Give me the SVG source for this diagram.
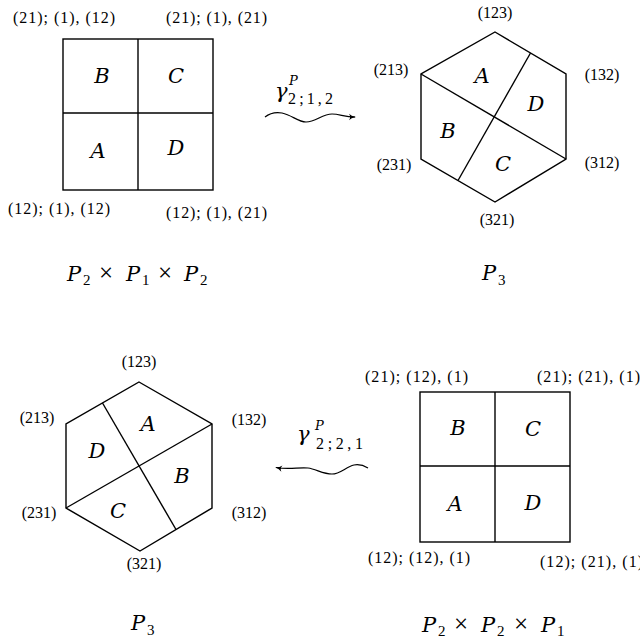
<svg xmlns="http://www.w3.org/2000/svg" width="640" height="643" viewBox="0 0 640 643">
<defs>
<style>
text{font-family:"Liberation Serif","DejaVu Serif",serif;fill:#000}
.lab{font-size:16px}
.let{font-family:"DejaVu Serif",serif;font-size:21px;font-style:italic}
.it{font-family:"DejaVu Serif",serif;font-style:italic;font-size:21px}
.op{font-size:25px}
.sub{font-size:15px}
.sup{font-family:"DejaVu Serif",serif;font-style:italic;font-size:13px}
.gsub{font-size:16px}
.gam{font-family:"DejaVu Serif",serif;font-style:italic;font-size:21px}
.shape{fill:#fff;stroke:#000;stroke-width:1.4}
.ln{stroke:#000;stroke-width:1.4;fill:none}
.wave{stroke:#000;stroke-width:1.2;fill:none}
</style>
<marker id="ah" markerWidth="10" markerHeight="10" refX="0" refY="0" viewBox="-8 -5 10 10" orient="auto" markerUnits="userSpaceOnUse">
<path d="M1,0 Q-4,-1 -6,-3.2 Q-4.5,-0.8 -5,0 Q-4.5,0.8 -6,3.2 Q-4,1 1,0 Z" fill="#000"/>
</marker>
</defs>
<rect width="640" height="643" fill="#fff"/>

<g id="square-top">
<rect class="shape" x="63" y="39" width="150" height="151"/>
<line class="ln" x1="138" y1="39" x2="138" y2="190"/>
<line class="ln" x1="63" y1="113" x2="213" y2="113"/>
<text class="let" x="102" y="83" text-anchor="middle">B</text>
<text class="let" x="176" y="83" text-anchor="middle">C</text>
<text class="let" x="98" y="158" text-anchor="middle">A</text>
<text class="let" x="176" y="155" text-anchor="middle">D</text>
<text class="lab" x="13" y="23" textLength="102" lengthAdjust="spacing">(21); (1), (12)</text>
<text class="lab" x="166" y="23" textLength="101" lengthAdjust="spacing">(21); (1), (21)</text>
<text class="lab" x="8" y="214" textLength="102" lengthAdjust="spacing">(12); (1), (12)</text>
<text class="lab" x="166" y="218" textLength="101" lengthAdjust="spacing">(12); (1), (21)</text>
<g id="caption-top-left">
<text class="it" x="67" y="281">P</text><text class="sub" x="83" y="285">2</text>
<text class="op" x="99" y="281">×</text>
<text class="it" x="126" y="281">P</text><text class="sub" x="142" y="285">1</text>
<text class="op" x="158" y="281">×</text>
<text class="it" x="184" y="281">P</text><text class="sub" x="200" y="285">2</text>
</g>
</g>

<g id="hex-top">
<polygon class="shape" points="495,32 566,74 566,159 495,202 421,159 421,74"/>
<line class="ln" x1="421" y1="74" x2="566" y2="159"/>
<line class="ln" x1="530.5" y1="53" x2="458" y2="180.5"/>
<text class="let" x="482" y="83" text-anchor="middle">A</text>
<text class="let" x="536" y="111" text-anchor="middle">D</text>
<text class="let" x="448" y="138" text-anchor="middle">B</text>
<text class="let" x="503" y="171" text-anchor="middle">C</text>
<text class="lab" x="495" y="18" text-anchor="middle">(123)</text>
<text class="lab" x="391" y="75" text-anchor="middle">(213)</text>
<text class="lab" x="602" y="80" text-anchor="middle">(132)</text>
<text class="lab" x="394" y="170" text-anchor="middle">(231)</text>
<text class="lab" x="602" y="168" text-anchor="middle">(312)</text>
<text class="lab" x="497" y="225" text-anchor="middle">(321)</text>
<text class="it" x="482" y="280">P</text><text class="sub" x="498" y="285">3</text>
</g>

<g id="hex-bottom">
<polygon class="shape" points="139,382 212,424 212,508 140,551 66,508 66,424"/>
<line class="ln" x1="66" y1="508" x2="212" y2="424"/>
<line class="ln" x1="102.5" y1="403" x2="176" y2="529.5"/>
<text class="let" x="148" y="431" text-anchor="middle">A</text>
<text class="let" x="97" y="458" text-anchor="middle">D</text>
<text class="let" x="182" y="483" text-anchor="middle">B</text>
<text class="let" x="118" y="518" text-anchor="middle">C</text>
<text class="lab" x="139" y="367" text-anchor="middle">(123)</text>
<text class="lab" x="37" y="423" text-anchor="middle">(213)</text>
<text class="lab" x="249" y="425" text-anchor="middle">(132)</text>
<text class="lab" x="39" y="518" text-anchor="middle">(231)</text>
<text class="lab" x="249" y="518" text-anchor="middle">(312)</text>
<text class="lab" x="144" y="569" text-anchor="middle">(321)</text>
<text class="it" x="131" y="630">P</text><text class="sub" x="147" y="635">3</text>
</g>

<g id="square-bottom">
<rect class="shape" x="420" y="392" width="150" height="150"/>
<line class="ln" x1="495" y1="392" x2="495" y2="542"/>
<line class="ln" x1="420" y1="466" x2="570" y2="466"/>
<text class="let" x="458" y="435" text-anchor="middle">B</text>
<text class="let" x="533" y="436" text-anchor="middle">C</text>
<text class="let" x="455" y="511" text-anchor="middle">A</text>
<text class="let" x="533" y="510" text-anchor="middle">D</text>
<text class="lab" x="365" y="382" textLength="103" lengthAdjust="spacing">(21); (12), (1)</text>
<text class="lab" x="537" y="382" textLength="103" lengthAdjust="spacing">(21); (21), (1)</text>
<text class="lab" x="368" y="563" textLength="102" lengthAdjust="spacing">(12); (12), (1)</text>
<text class="lab" x="540" y="567" textLength="103" lengthAdjust="spacing">(12); (21), (1)</text>
<g id="caption-bottom-right">
<text class="it" x="422" y="632">P</text><text class="sub" x="438" y="636">2</text>
<text class="op" x="454" y="632">×</text>
<text class="it" x="481" y="632">P</text><text class="sub" x="497" y="636">2</text>
<text class="op" x="514" y="632">×</text>
<text class="it" x="541" y="632">P</text><text class="sub" x="557" y="636">1</text>
</g>
</g>

<g id="connectors">
<path class="wave" d="M265,117 C270,113 276,112 282,113 C292,115 298,122 306,122 C316,122 322,114 332,114 C340,114 344,117 355,117" marker-end="url(#ah)"/>
<text class="gam" x="275" y="98">γ</text>
<text class="sup" x="289" y="85">P</text>
<text class="gsub" x="288" y="104" textLength="45" lengthAdjust="spacing">2;1,2</text>
<path class="wave" d="M368,468 C363,465 359,464 354,465 C346,467 340,474 332,474 C323,474 316,469 308,468 C298,467 290,470 276,467.5" marker-end="url(#ah)"/>
<text class="gam" x="297" y="441">γ</text>
<text class="sup" x="315" y="430">P</text>
<text class="gsub" x="316" y="449" textLength="47" lengthAdjust="spacing">2;2,1</text>
</g>
</svg>
